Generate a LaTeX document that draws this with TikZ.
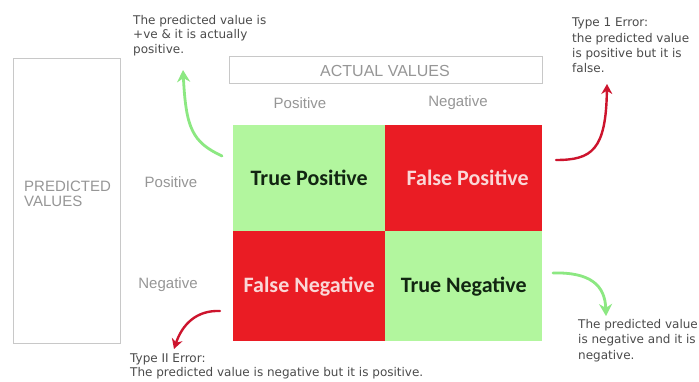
\documentclass[tikz,border=0pt]{standalone}
\usepackage{fontspec}
\setmainfont{DejaVu Sans}
\newfontfamily\cellfont{Carlito}
\newfontfamily\headfont{Liberation Sans}
\usetikzlibrary{arrows.meta}

\definecolor{cellgreen}{RGB}{178,246,158}
\definecolor{cellred}{RGB}{234,28,36}
\definecolor{darktext}{RGB}{18,38,18}
\definecolor{paletext}{RGB}{250,215,215}
\definecolor{arrowgreen}{RGB}{140,232,130}
\definecolor{arrowred}{RGB}{205,20,45}
\definecolor{boxline}{RGB}{200,200,200}
\definecolor{headgray}{RGB}{150,150,150}
\definecolor{notegray}{RGB}{75,75,75}

\tikzset{
  cell/.style={draw=none, anchor=north west, inner sep=0pt,
    font=\cellfont\bfseries\fontsize{22}{24}\selectfont},
  goodcell/.style={cell, fill=cellgreen, text=darktext},
  badcell/.style={cell, fill=cellred, text=paletext},
  framebox/.style={draw=boxline, line width=0.8pt, anchor=north west, inner sep=0pt},
  heading/.style={text=headgray, font=\headfont\fontsize{15}{18}\selectfont, inner sep=0pt},
  note/.style={text=notegray, align=left, anchor=north west, inner sep=0pt,
    font=\fontsize{12}{15.2}\selectfont},
  goodarrow/.style={draw=arrowgreen, line width=2.8pt, line cap=round,
    -{Stealth[length=12pt,width=13pt]}},
  badarrow/.style={draw=arrowred, line width=2.4pt, line cap=round,
    -{Stealth[length=10pt,width=11pt]}}
}

\begin{document}
\begin{tikzpicture}[x=1pt,y=-1pt]
  \useasboundingbox[fill=white] (0,0) rectangle (699,381);
  \clip (0,0) rectangle (699,381);

  % the four cells of the matrix
  \node[goodcell, minimum width=152, minimum height=106] (tp) at (233,125) {True Positive};
  \node[badcell,  minimum width=157, minimum height=106] (fp) at (385,125) {\hspace{8pt}False Positive};
  \node[badcell,  minimum width=152, minimum height=110] (fn) at (233,231) {False Negative};
  \node[goodcell, minimum width=157, minimum height=110] (tn) at (385,231) {True Negative};

  % axis frames
  \node[framebox, minimum width=313, minimum height=27] (actual) at (229,56) {};
  \node[heading, font=\headfont\fontsize{16}{18}\selectfont] (actualtxt) at (385,71) {ACTUAL VALUES};
  \node[framebox, minimum width=107, minimum height=285] (predicted) at (13,58) {};
  \node[heading, align=left, anchor=west, font=\headfont\fontsize{15}{15.5}\selectfont]
    (predtxt) at (24,194) {PREDICTED\\VALUES};

  % class labels
  \node[heading] (colpos) at (300,103) {Positive};
  \node[heading] (colneg) at (458,103) {Negative};
  \node[heading] (rowpos) at (171,182) {Positive};
  \node[heading] (rowneg) at (168,285) {Negative};

  % explanatory notes
  \node[note, font=\fontsize{12}{14.5}\selectfont] (tpnote) at (133,15) {The predicted value is\\+ve \& it is actually\\positive.};
  \node[note] (fpnote) at (572,18) {Type 1 Error:\\the predicted value\\is positive but it is\\false.};
  \node[note, font=\fontsize{12}{15.6}\selectfont] (tnnote) at (578,319) {The predicted value\\is negative and it is\\negative.};
  \node[note, font=\fontsize{12}{13.5}\selectfont] (fnnote) at (130,354) {Type II Error:\\The predicted value is negative but it is positive.};

  % arrow anchors
  \coordinate (tptail) at (222,156);
  \coordinate (tphead) at (183,70);
  \coordinate (fptail) at (556,160);
  \coordinate (fphead) at (607,84);
  \coordinate (tntail) at (553,273);
  \coordinate (tnhead) at (606,316);
  \coordinate (fntail) at (220,311);
  \coordinate (fnhead) at (174,349);

  % pointers from the cells to the notes
  \draw[goodarrow] (tptail) .. controls (192,142) and (186,128) .. (tphead);
  \draw[badarrow]  (fptail) .. controls (592,160) and (606,150) .. (fphead);
  \draw[goodarrow] (tntail) .. controls (590,272) and (605,285) .. (tnhead);
  \draw[badarrow]  (fntail) .. controls (196,310) and (182,325) .. (fnhead);
\end{tikzpicture}
\end{document}
